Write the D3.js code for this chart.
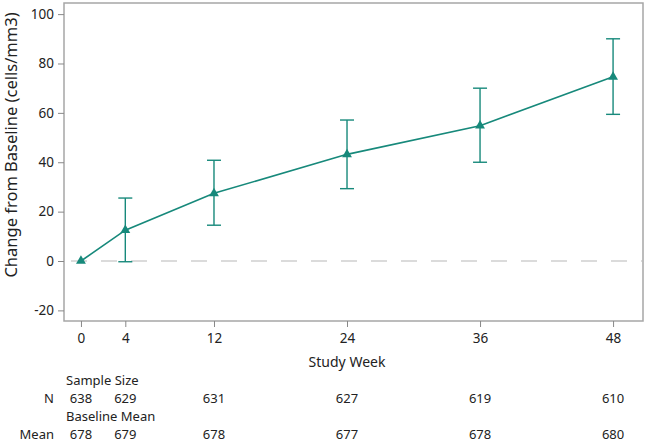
<!DOCTYPE html>
<html>
<head>
<meta charset="utf-8">
<script src="https://cdn.jsdelivr.net/npm/d3@7"></script>
<style>
  body { margin: 0; background: #fff; }
  text { font-family: "Noto Sans", "Open Sans", sans-serif; fill: #222; }
</style>
</head>
<body>
<svg id="chart" width="647" height="442"></svg>
<script>
// 資料
const weeks = [0, 4, 12, 24, 36, 48];
const meanChange = [0, 12.5, 27.4, 43.2, 54.8, 74.6];
const lower = [0, -0.3, 14.5, 29.3, 40, 59.4];
const upper = [0, 25.5, 40.8, 57.1, 70, 90];
const sampleSize = [638, 629, 631, 627, 619, 610];
const baselineMean = [678, 679, 678, 677, 678, 680];
const yTicks = [-20, 0, 20, 40, 60, 80, 100];

const svg = d3.select('#chart');
const teal = '#17897b';

// 定義尺寸 (top 是 window 的保留名稱)
const pLeft = 64, pRight = 643, pTop = 3, pBottom = 321;

const x = d3.scaleLinear().domain([-1.53, 50.7]).range([pLeft, pRight]);
const y = d3.scaleLinear().domain([-24.3, 104.5]).range([pBottom, pTop]);

// 外框
svg.append('rect')
    .attr('x', pLeft).attr('y', pTop)
    .attr('width', pRight - pLeft).attr('height', pBottom - pTop)
    .attr('fill', 'none')
    .attr('stroke', '#a6a6a6')
    .attr('stroke-width', 1.5);

// y軸 (用一般的減號)
const yAxis = svg.append('g')
    .attr('transform', `translate(${pLeft},0)`)
    .call(d3.axisLeft(y).tickValues(yTicks).tickSize(6).tickPadding(4)
        .tickFormat(d => String(d)));
yAxis.select('.domain').remove();
yAxis.selectAll('line').attr('stroke', '#888');
yAxis.selectAll('text').style('font-size', '13.5px').attr('fill', '#222');

// x軸
const xAxis = svg.append('g')
    .attr('transform', `translate(0,${pBottom})`)
    .call(d3.axisBottom(x).tickValues(weeks).tickSize(6).tickPadding(6));
xAxis.select('.domain').remove();
xAxis.selectAll('line').attr('stroke', '#888');
xAxis.selectAll('text').style('font-size', '13.5px').attr('fill', '#222');

// 標題
svg.append('text')
    .attr('x', x(24)).attr('y', 367)
    .attr('text-anchor', 'middle')
    .style('font-size', '14px')
    .text('Study Week');

svg.append('text')
    .attr('transform', `translate(17,145) rotate(-90)`)
    .attr('text-anchor', 'middle')
    .style('font-size', '16.5px')
    .text('Change from Baseline (cells/mm3)');

// 0 參考線
svg.append('line')
    .attr('x1', pLeft + 1).attr('x2', pRight - 1)
    .attr('y1', y(0)).attr('y2', y(0))
    .attr('stroke', '#cfcfcf')
    .attr('stroke-width', 1.3)
    .attr('stroke-dasharray', '16,14')
    .attr('stroke-dashoffset', -6);

const pts = weeks.map((w, i) => ({ w, m: meanChange[i], lo: lower[i], hi: upper[i] }));

// 誤差線
const eb = svg.selectAll('.eb')
    .data(pts.filter(d => d.hi !== d.lo))
    .enter()
    .append('g')
    .attr('class', 'eb')
    .attr('stroke', teal)
    .attr('stroke-width', 1.4);
eb.append('line')
    .attr('x1', d => x(d.w)).attr('x2', d => x(d.w))
    .attr('y1', d => y(d.lo)).attr('y2', d => y(d.hi));
eb.append('line')
    .attr('x1', d => x(d.w) - 7).attr('x2', d => x(d.w) + 7)
    .attr('y1', d => y(d.hi)).attr('y2', d => y(d.hi));
eb.append('line')
    .attr('x1', d => x(d.w) - 7).attr('x2', d => x(d.w) + 7)
    .attr('y1', d => y(d.lo)).attr('y2', d => y(d.lo));

// 折線
svg.append('path')
    .datum(pts)
    .attr('fill', 'none')
    .attr('stroke', teal)
    .attr('stroke-width', 1.6)
    .attr('d', d3.line().x(d => x(d.w)).y(d => y(d.m)));

// 三角形
svg.selectAll('.pt')
    .data(pts)
    .enter()
    .append('path')
    .attr('class', 'pt')
    .attr('transform', d => `translate(${x(d.w)},${y(d.m)})`)
    .attr('d', d3.symbol().type(d3.symbolTriangle).size(42))
    .attr('fill', teal);

// 下方表格
const rows = [
    { head: 'Sample Size', label: 'N', vals: sampleSize, y: 385, vy: 403 },
    { head: 'Baseline Mean', label: 'Mean', vals: baselineMean, y: 421, vy: 439 }
];
rows.forEach(r => {
    svg.append('text')
        .attr('x', 66).attr('y', r.y)
        .style('font-size', '13px')
        .text(r.head);
    svg.append('text')
        .attr('x', 54).attr('y', r.vy)
        .attr('text-anchor', 'end')
        .style('font-size', '13px')
        .text(r.label);
    svg.selectAll(null)
        .data(r.vals)
        .enter()
        .append('text')
        .attr('x', (d, i) => x(weeks[i]))
        .attr('y', r.vy)
        .attr('text-anchor', 'middle')
        .style('font-size', '13px')
        .text(d => d);
});
</script>
</body>
</html>
